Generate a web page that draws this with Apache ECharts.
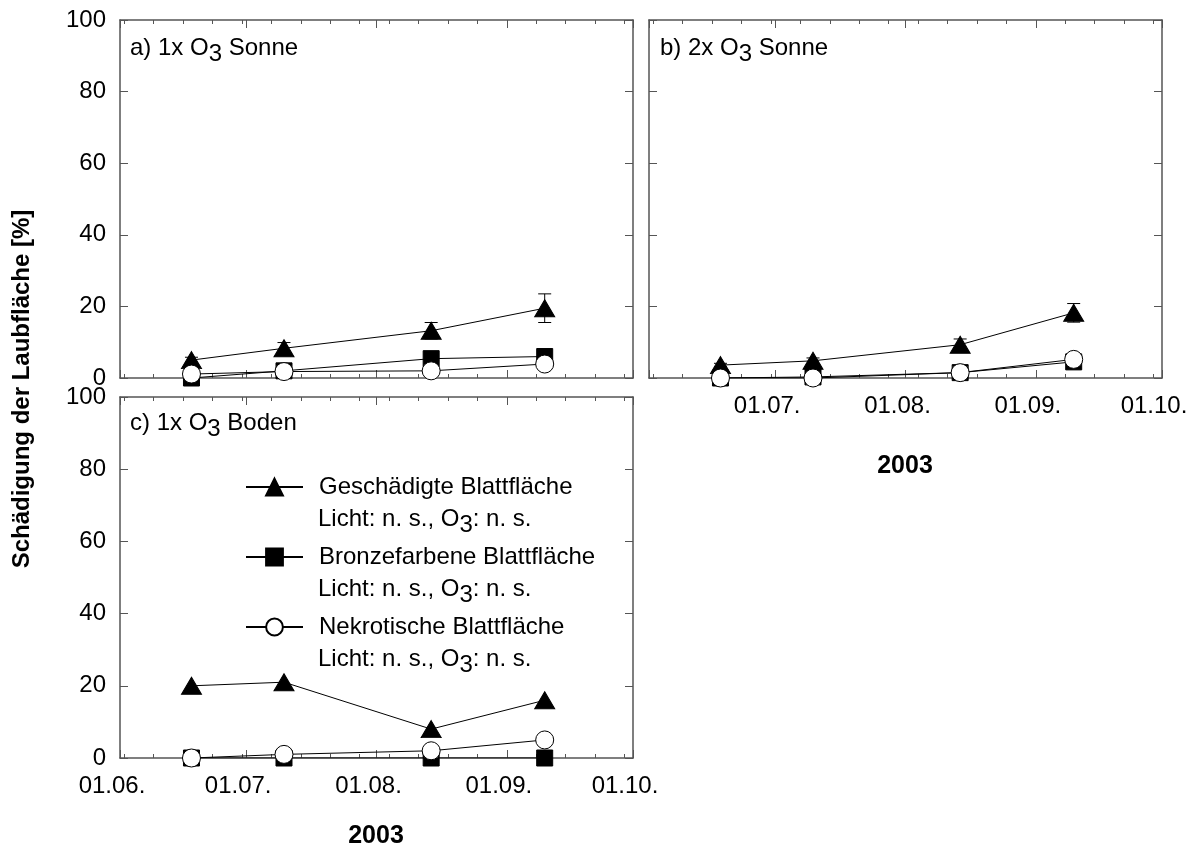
<!DOCTYPE html>
<html><head><meta charset="utf-8">
<script src="https://cdn.jsdelivr.net/npm/echarts@6/dist/echarts.min.js"></script>
<style>html,body{margin:0;padding:0;background:#fff}#c{width:1197px;height:852px}</style>
</head><body><div id="c"></div>
<script>
// ---- data ----
const sampleDates = ['2003-06-18', '2003-07-10', '2003-08-14', '2003-09-10'];
const xTickDates = ['2003-06-01', '2003-07-01', '2003-08-01', '2003-09-01', '2003-10-01'];
const xTickLabels = ['01.06.', '01.07.', '01.08.', '01.09.', '01.10.'];
const xTickLabelsB = ['', '01.07.', '01.08.', '01.09.', '01.10.'];
const weekTickStart = '2003-06-02';
const yTickValues = [0, 20, 40, 60, 80, 100];
const seriesNames = ['Geschädigte Blattfläche', 'Bronzefarbene Blattfläche', 'Nekrotische Blattfläche'];
const sigLine = 'Licht: n. s., O3: n. s.';
// panel a) 1x O3 Sonne
const aGesch = [5.0, 8.3, 13.2, 19.5];
const aGeschErr = [0.8, 1.6, 2.3, 4.0];
const aBronze = [0.0, 2.0, 5.4, 6.0];
const aBronzeErr = [0.0, 0.6, 0.8, 1.8];
const aNekro = [1.1, 1.8, 2.0, 3.9];
const aNekroErr = [0.0, 0.0, 0.0, 0.0];
// panel b) 2x O3 Sonne
const bGesch = [3.6, 4.8, 9.3, 18.2];
const bGeschErr = [0.5, 0.8, 1.6, 2.6];
const bBronze = [0.0, 0.3, 1.5, 4.5];
const bBronzeErr = [0.0, 0.0, 0.5, 0.8];
const bNekro = [0.0, 0.0, 1.5, 5.2];
const bNekroErr = [0.0, 0.0, 0.0, 0.0];
// panel c) 1x O3 Boden
const cGesch = [20.0, 21.0, 8.0, 16.0];
const cBronze = [0.0, 0.0, 0.0, 0.0];
const cNekro = [0.0, 1.0, 2.0, 5.0];

// ---- helpers ----
const DAY = 86400000;
const origin = Date.UTC(2003, 5, 1);
function dayOf(s) {
  const p = s.split('-').map(Number);
  return (Date.UTC(p[0], p[1] - 1, p[2]) - origin) / DAY;
}
const xs = sampleDates.map(dayOf);
const xTicks = xTickDates.map(dayOf);
const xMax = xTicks[xTicks.length - 1];
const weekTicks = [];
for (let d = dayOf(weekTickStart); d < xMax; d += 7) weekTicks.push(d);
const FONT = 'Liberation Sans, Arial, sans-serif';
const FS = 24;
const AX = '#555';

const grids = [
  { left: 120, top: 20, width: 513, height: 358 },
  { left: 649, top: 20, width: 513, height: 358 },
  { left: 120, top: 397, width: 513, height: 361 }
];

const xAxes = [], yAxes = [];
function addAxes(gi, labels, showY) {
  const tickStyle = { lineStyle: { color: AX, width: 1 } };
  const line = { show: true, onZero: false, lineStyle: { color: AX, width: 1.5 } };
  xAxes.push({
    gridIndex: gi, type: 'value', min: 0, max: xMax, position: 'bottom',
    axisLine: line,
    axisTick: { show: true, inside: true, length: 8, customValues: xTicks, ...tickStyle },
    axisLabel: {
      show: !!labels, customValues: xTicks, fontSize: FS, color: '#000', fontFamily: FONT, margin: 16,
      padding: [0, 16, 0, 0],
      formatter: v => { const i = xTicks.indexOf(v); return (labels && i >= 0) ? labels[i] : ''; }
    },
    splitLine: { show: false }
  });
  xAxes.push({
    gridIndex: gi, type: 'value', min: 0, max: xMax, position: 'top',
    axisLine: line,
    axisTick: { show: true, inside: true, length: 8, customValues: xTicks, ...tickStyle },
    axisLabel: { show: false }, splitLine: { show: false }
  });
  ['bottom', 'top'].forEach(pos => xAxes.push({
    gridIndex: gi, type: 'value', min: 0, max: xMax, position: pos,
    axisLine: { show: false, onZero: false },
    axisTick: { show: true, inside: true, length: 4, customValues: weekTicks, ...tickStyle },
    axisLabel: { show: false }, splitLine: { show: false }
  }));
  yAxes.push({
    gridIndex: gi, type: 'value', min: 0, max: 100, interval: 20, position: 'left',
    axisLine: line,
    axisTick: { show: true, inside: true, length: 8, ...tickStyle },
    axisLabel: {
      show: showY, fontSize: FS, color: '#000', fontFamily: FONT, margin: 14,
      formatter: v => (yTickValues.indexOf(v) >= 0 ? String(v) : '')
    },
    splitLine: { show: false }
  });
  yAxes.push({
    gridIndex: gi, type: 'value', min: 0, max: 100, interval: 20, position: 'right',
    axisLine: line,
    axisTick: { show: true, inside: true, length: 8, ...tickStyle },
    axisLabel: { show: false }, splitLine: { show: false }
  });
}
addAxes(0, null, true);
addAxes(1, xTickLabelsB, false);
addAxes(2, xTickLabels, true);

const symbols = ['triangle', 'rect', 'circle'];
const symSizes = [[20, 17], 16, 18];
const fills = ['#000', '#000', '#fff'];

const series = [];
function addPanel(gi, vals, errs) {
  vals.forEach((v, k) => {
    if (errs && errs[k]) {
      series.push({
        type: 'custom', xAxisIndex: gi * 4, yAxisIndex: gi * 2, z: 1, silent: true,
        data: xs.map((x, i) => [x, v[i], errs[k][i]]),
        renderItem: (params, api) => {
          const x = api.value(0), y = api.value(1), e = api.value(2);
          if (!e) return null;
          const top = api.coord([x, y + e]), bot = api.coord([x, y - e]);
          const w = 6.5;
          const st = { stroke: '#000', lineWidth: 1 };
          return {
            type: 'group', children: [
              { type: 'line', shape: { x1: top[0], y1: top[1], x2: bot[0], y2: bot[1] }, style: st },
              { type: 'line', shape: { x1: top[0] - w, y1: top[1], x2: top[0] + w, y2: top[1] }, style: st },
              { type: 'line', shape: { x1: bot[0] - w, y1: bot[1], x2: bot[0] + w, y2: bot[1] }, style: st }
            ]
          };
        }
      });
    }
    series.push({
      name: seriesNames[k], type: 'line', xAxisIndex: gi * 4, yAxisIndex: gi * 2,
      data: xs.map((x, i) => [x, v[i]]), z: 2 + k,
      symbol: symbols[k], symbolSize: symSizes[k], showSymbol: true,
      lineStyle: { color: '#000', width: 1 },
      itemStyle: { color: fills[k], borderColor: '#000', borderWidth: 1 },
      emphasis: { disabled: true }, animation: false
    });
  });
}
addPanel(0, [aGesch, aBronze, aNekro], [aGeschErr, aBronzeErr, aNekroErr]);
addPanel(1, [bGesch, bBronze, bNekro], [bGeschErr, bBronzeErr, bNekroErr]);
addPanel(2, [cGesch, cBronze, cNekro], null);

const rich = {
  t: { fontSize: FS, fontFamily: FONT, color: '#000', lineHeight: 28 },
  s: { fontSize: FS, fontFamily: FONT, color: '#000', lineHeight: 28, padding: [12, 0, 0, 0] }
};
function sub(str) {
  const parts = str.split('O3');
  return parts.map(p => '{t|' + p + '}').join('{t|O}{s|3}');
}

const legendTop = 473, legendPitch = 70;
const graphics = [
  { type: 'text', left: 130, top: 30, style: { rich: rich, text: sub('a) 1x O3 Sonne') } },
  { type: 'text', left: 660, top: 30, style: { rich: rich, text: sub('b) 2x O3 Sonne') } },
  { type: 'text', left: 130, top: 405, style: { rich: rich, text: sub('c) 1x O3 Boden') } },
  { type: 'text', x: 905, y: 466, style: { text: '2003', font: 'bold 25px ' + FONT, fill: '#000', align: 'center', verticalAlign: 'middle' } },
  { type: 'text', x: 376, y: 836, style: { text: '2003', font: 'bold 25px ' + FONT, fill: '#000', align: 'center', verticalAlign: 'middle' } },
  { type: 'text', x: 22, y: 389, rotation: Math.PI / 2, style: { text: 'Schädigung der Laubfläche [%]', font: 'bold 24px ' + FONT, fill: '#000', align: 'center', verticalAlign: 'middle' } }
];
seriesNames.forEach((n, i) => {
  graphics.push({ type: 'text', left: 318, top: legendTop + 30 + i * legendPitch - 2, style: { rich: rich, text: sub(sigLine) } });
});

const chart = echarts.init(document.getElementById('c'), null, { renderer: 'canvas' });
chart.setOption({
  animation: false,
  backgroundColor: '#fff',
  grid: grids,
  xAxis: xAxes,
  yAxis: yAxes,
  series: series,
  legend: {
    data: seriesNames, orient: 'vertical', left: 245, top: legendTop, itemGap: legendPitch - 28,
    itemWidth: 57, itemHeight: 21, selectedMode: false, padding: 0,
    textStyle: { fontSize: FS, fontFamily: FONT, color: '#000', lineHeight: 28, padding: [0, 0, 0, 11] }
  },
  graphic: graphics
});
</script></body></html>
